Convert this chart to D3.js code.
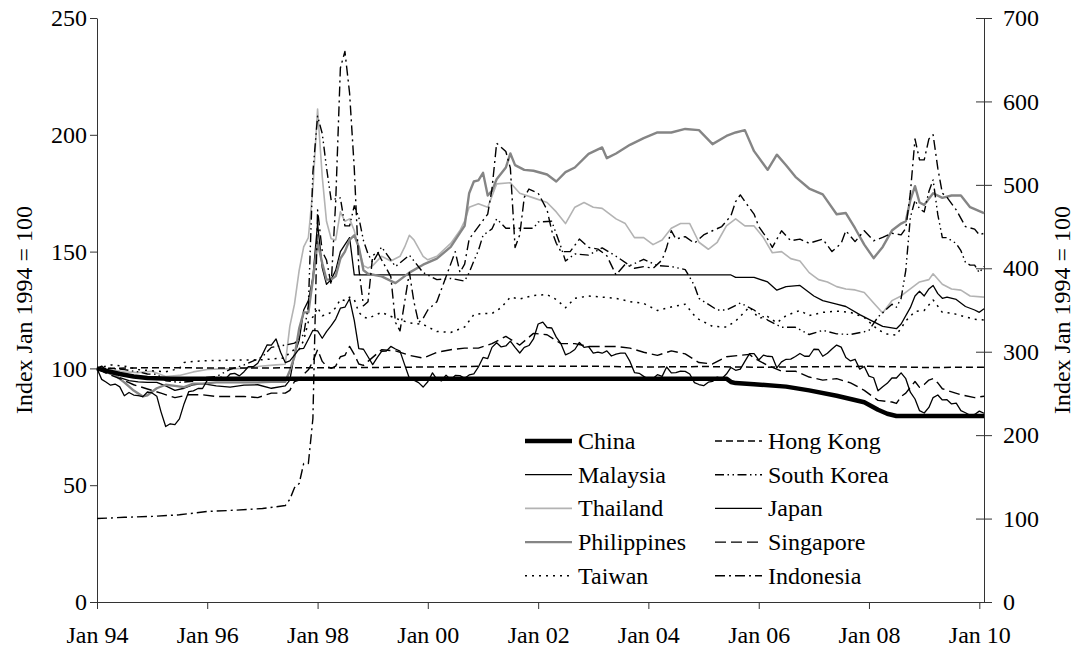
<!DOCTYPE html>
<html>
<head>
<meta charset="utf-8">
<script src="https://cdn.jsdelivr.net/npm/d3@7"></script>
<style>
  body { margin: 0; background: #fff; }
</style>
</head>
<body>
<div id="container"></div>
<script>
/* CONSTANTS AND GLOBALS */
const width = 1074, height = 650;
const margin = {top: 18, right: 90, bottom: 48, left: 97};
const fontSize = 24;
const serifFont = "Liberation Serif";

/* DATA */
const xTickYears = [1994, 1996, 1998, 2000, 2002, 2004, 2006, 2008, 2010];
const leftTicks = [0, 50, 100, 150, 200, 250];
const rightTicks = [0, 100, 200, 300, 400, 500, 600, 700];
const axisTitle = "Index Jan 1994 = 100";

// [month, index] pairs
const china = [["1994-01",100],["1994-03",99],["1994-06",97.6],["1994-09",96.5],["1994-12",95.9],["1995-05",95.6],
  ["2005-06",95.6],["2005-07",94.2],["2005-08",93.7],["2005-12",93.2],["2006-07",92.2],["2006-12",90.6],
  ["2007-06",88.3],["2007-12",85.5],["2008-03",82.3],["2008-05",80.6],["2008-07",79.6],["2010-02",79.6]];

const malaysia = [["1994-01",100],["1994-02",101],["1994-04",97.5],["1994-06",96],["1994-08",94.8],["1994-10",94.2],["1994-12",94],
  ["1995-02",94],["1995-04",92.5],["1995-06",90.6],["1995-08",91.5],["1995-10",93],["1995-12",93.5],["1996-03",92.5],["1996-06",92],
  ["1996-09",92.8],["1996-12",93],["1997-03",91.5],["1997-06",92.5],["1997-07",95],["1997-08",106],["1997-09",112],["1997-10",125],
  ["1997-11",129],["1997-12",139],["1998-01",162],["1998-02",143],["1998-03",136],["1998-04",138],["1998-05",142],["1998-06",150],
  ["1998-07",153],["1998-08",156],["1998-09",140],["2005-07",140],["2005-08",139],["2005-12",139],["2006-03",137],["2006-05",133.5],
  ["2006-07",135],["2006-10",135.5],["2007-01",131],["2007-03",129],["2007-06",127.5],["2007-08",126.5],["2007-11",123],["2008-01",121],
  ["2008-04",118],["2008-07",117],["2008-08",119],["2008-10",126],["2008-11",131],["2008-12",133],["2009-01",131],["2009-02",134],
  ["2009-03",135.5],["2009-04",132],["2009-05",130],["2009-06",130.5],["2009-08",129.5],["2009-10",126.5],["2009-12",125],["2010-01",124],["2010-02",125.5]];

const thailand = [["1994-01",100],["1994-04",99.5],["1994-07",98.5],["1994-10",98.2],["1995-01",98.8],["1995-04",96.5],["1995-07",97],
  ["1995-10",98.5],["1996-01",99.5],["1996-04",99.8],["1996-07",99.8],["1996-10",100.3],["1997-01",101],["1997-04",101.5],["1997-06",101.8],
  ["1997-07",118],["1997-08",127.5],["1997-09",142],["1997-10",152],["1997-11",156],["1997-12",177],["1998-01",211],["1998-02",182],
  ["1998-03",163],["1998-04",155.5],["1998-05",155],["1998-06",167],["1998-07",163],["1998-08",164],["1998-09",159],["1998-10",151],
  ["1998-11",144],["1998-12",143],["1999-01",144],["1999-03",148],["1999-05",146],["1999-07",148],["1999-08",152],["1999-09",157],
  ["1999-10",155],["1999-12",148],["2000-01",146.5],["2000-03",148],["2000-06",153.5],["2000-08",159],["2000-09",163],["2000-10",169],
  ["2000-12",170.5],["2001-02",169],["2001-04",179],["2001-07",179.5],["2001-09",175],["2001-12",173],["2002-03",171],["2002-05",167],
  ["2002-07",162],["2002-09",169],["2002-11",171],["2003-01",169],["2003-03",168.5],["2003-06",164],["2003-08",162],["2003-10",156],
  ["2003-12",156],["2004-02",153],["2004-04",155],["2004-06",160],["2004-08",162],["2004-10",162],["2004-12",154],["2005-02",151],
  ["2005-04",154],["2005-06",161],["2005-08",164],["2005-10",161],["2005-12",161],["2006-02",156],["2006-04",149.5],["2006-06",150],
  ["2006-08",147],["2006-10",146],["2006-12",141],["2007-02",138],["2007-04",137],["2007-06",135],["2007-08",134],["2007-10",133.6],
  ["2007-12",132.5],["2008-02",128],["2008-04",123.7],["2008-06",129],["2008-08",131],["2008-10",134],["2008-12",137],["2009-02",138],
  ["2009-03",140.5],["2009-05",136],["2009-07",134],["2009-09",133.5],["2009-11",131],["2010-02",130.5]];

const philippines = [["1994-01",100],["1994-03",98.5],["1994-05",97],["1994-07",94],["1994-09",90.5],["1994-11",88],["1994-12",88.5],
  ["1995-02",91.5],["1995-04",93],["1995-06",92.5],["1995-08",92],["1995-10",93.5],["1995-12",93.5],["1996-03",94],["1996-06",94],
  ["1996-09",94],["1996-12",94],["1997-03",94.3],["1997-06",94.3],["1997-07",99],["1997-08",105],["1997-09",117],["1997-10",124],
  ["1997-11",124],["1997-12",138],["1998-01",154],["1998-02",145],["1998-03",138],["1998-04",138],["1998-05",139.5],["1998-06",147],
  ["1998-07",150],["1998-08",155],["1998-09",157],["1998-10",152],["1998-11",142],["1998-12",140.5],["1999-03",139.4],["1999-06",136.5],
  ["1999-09",141],["1999-12",144.4],["2000-03",147],["2000-06",152],["2000-08",158],["2000-09",161],["2000-10",175],["2000-11",180],
  ["2000-12",180.5],["2001-01",183.7],["2001-02",174],["2001-03",176],["2001-04",181],["2001-06",186],["2001-07",192],["2001-08",187],
  ["2001-10",185],["2001-12",184.6],["2002-03",183],["2002-05",180],["2002-07",184],["2002-09",186],["2002-12",191.8],["2003-03",194.6],
  ["2003-04",190],["2003-06",192],["2003-09",195.7],["2003-12",198.6],["2004-03",201],["2004-06",201],["2004-09",202.5],["2004-12",202],
  ["2005-03",196],["2005-06",199.5],["2005-08",201],["2005-10",202],["2005-12",193],["2006-02",187.5],["2006-03",185],["2006-05",191.5],
  ["2006-07",187],["2006-09",182],["2006-12",177],["2007-03",174.5],["2007-06",166],["2007-08",166.5],["2007-10",160],["2007-12",153],
  ["2008-02",147.2],["2008-04",152],["2008-06",159],["2008-08",162],["2008-09",163],["2008-10",172],["2008-11",178],["2008-12",171],
  ["2009-01",170],["2009-03",175],["2009-05",173],["2009-07",174],["2009-09",174],["2009-11",169],["2010-02",166.5]];

const taiwan = [["1994-01",100],["1994-04",101.5],["1994-07",101],["1994-10",99.5],["1995-01",99],["1995-04",98.5],["1995-07",100],
  ["1995-08",102.5],["1995-10",103],["1996-01",103.3],["1996-06",103.5],["1997-01",103.7],["1997-06",104.5],["1997-07",107],["1997-08",108],
  ["1997-09",108],["1997-10",112],["1997-11",120],["1997-12",122],["1998-01",126],["1998-02",122.5],["1998-03",123],["1998-04",124],
  ["1998-05",126],["1998-06",129.5],["1998-07",129],["1998-08",130.5],["1998-09",129.5],["1998-10",124],["1998-11",122],["1998-12",121.4],
  ["1999-03",124],["1999-06",121.4],["1999-09",119.5],["1999-12",118.8],["2000-03",115.8],["2000-06",115.4],["2000-09",117.7],["2000-11",123],
  ["2001-01",123.5],["2001-03",123.5],["2001-05",126],["2001-07",130.5],["2001-09",129.7],["2001-12",131.2],["2002-03",131.6],["2002-05",129.5],
  ["2002-07",126],["2002-09",130],["2002-12",131],["2003-03",130.5],["2003-06",130],["2003-09",128.6],["2003-12",127.8],["2004-03",124.8],
  ["2004-06",126.3],["2004-09",127.5],["2004-11",122.6],["2004-12",121],["2005-03",118],["2005-06",117.7],["2005-08",120.3],["2005-11",126.3],
  ["2006-01",121.5],["2006-03",122.2],["2006-05",119.5],["2006-07",122.6],["2006-10",124.8],["2006-12",122.6],["2007-03",124],["2007-06",124.5],
  ["2007-09",124],["2007-12",121.8],["2008-03",116.5],["2008-05",114.7],["2008-07",114.3],["2008-09",120.3],["2008-11",124.4],["2009-01",124.8],
  ["2009-03",129.3],["2009-05",124],["2009-07",123.7],["2009-09",122.6],["2009-12",121],["2010-02",120.7]];

const hongKong = [["1994-01",100],["1994-06",100.1],["1995-01",100.3],["1996-01",100.2],["1997-01",100.2],["1998-01",100.3],["1999-01",100.4],
  ["2000-01",100.6],["2001-01",100.9],["2003-01",100.9],["2004-01",100.6],["2005-01",100.8],["2006-01",100.5],["2007-01",100.7],
  ["2008-01",100.9],["2009-01",100.4],["2010-02",100.5]];

const southKorea = [["1994-01",100],["1994-04",100],["1994-07",99.5],["1994-10",98.5],["1994-12",97.6],["1995-02",97.5],["1995-04",94.7],
  ["1995-07",94],["1995-10",94.5],["1995-12",96],["1996-03",96.5],["1996-06",99.6],["1996-09",101.5],["1996-12",104],["1997-01",105],
  ["1997-03",109],["1997-06",110],["1997-08",110.8],["1997-09",112.6],["1997-10",114.5],["1997-11",127],["1997-12",184],["1998-01",208],
  ["1998-02",200.5],["1998-03",186],["1998-04",172],["1998-05",172.6],["1998-06",173],["1998-07",161],["1998-08",161],["1998-09",169.6],
  ["1998-10",164.6],["1998-11",154.7],["1998-12",149],["1999-01",145.4],["1999-03",152],["1999-06",143.6],["1999-09",148.5],["1999-12",141],
  ["2000-03",138],["2000-06",138.5],["2000-09",137.4],["2000-10",141],["2000-11",146],["2000-12",150.4],["2001-01",157],["2001-03",159.7],
  ["2001-04",164],["2001-06",160],["2001-09",160],["2001-12",160],["2002-01",162.7],["2002-04",163],["2002-06",152],["2002-07",146],
  ["2002-09",149],["2002-12",148.5],["2003-03",151.6],["2003-06",148],["2003-09",144],["2003-12",146.7],["2004-03",144],["2004-06",143.6],
  ["2004-09",142.3],["2004-11",135.5],["2004-12",130],["2005-01",128.7],["2005-04",125],["2005-06",125],["2005-09",128],["2005-12",125],
  ["2006-03",120.7],["2006-06",117.6],["2006-09",117.6],["2006-12",114.5],["2007-03",116.3],["2007-06",114.8],["2007-09",114.5],
  ["2007-12",115.7],["2008-01",116.3],["2008-03",122],["2008-06",127.5],["2008-07",126.2],["2008-08",130],["2008-09",142],["2008-10",164.6],
  ["2008-11",172],["2008-12",168.3],["2009-01",167],["2009-02",175.7],["2009-03",180.7],["2009-04",165.8],["2009-05",156],["2009-06",156],
  ["2009-07",154.7],["2009-08",153.5],["2009-09",150.4],["2009-10",145.4],["2009-11",144.2],["2009-12",144.2],["2010-01",141],["2010-02",143.6]];

// Japan: one value per month from Jan 1994
const japanStart = "1994-01";
const japan = [
  100, 95.3, 94.2, 92.8, 93.3, 92.1, 88.3, 89.7, 88.6, 88.3, 87.9, 89.9,
  89.5, 88.1, 81.4, 75.1, 76.3, 75.9, 78.4, 84.9, 90.1, 90.4, 91.4, 91.4,
  94.9, 94.9, 95.0, 96.3, 95.5, 97.6, 97.9, 96.8, 98.6, 100.8, 100.7, 102.2,
  106.0, 110.1, 110.0, 112.6, 106.9, 102.5, 103.2, 105.7, 108.4, 108.6, 112.5, 116.3,
  116.1, 112.9, 115.7, 118.3, 121.1, 125.8, 126.2, 129.8, 120.6, 108.5, 108.2, 105.0,
  101.6, 104.7, 107.3, 107.4, 109.4, 108.3, 107.4, 101.5, 95.8, 95.0, 93.9, 92.0,
  94.3, 98.1, 95.3, 94.7, 97.1, 95.2, 97.0, 96.9, 95.8, 97.2, 97.7, 100.6,
  104.7, 104.2, 109.0, 111.0, 109.2, 109.6, 111.7, 109.0, 106.6, 109.0, 109.8, 112.6,
  119.0, 119.8, 117.5, 117.3, 113.4, 110.6, 105.8, 106.7, 108.1, 111.1, 109.0, 109.3,
  106.5, 107.0, 106.5, 107.5, 105.3, 106.1, 106.5, 106.5, 103.0, 98.2, 97.9, 96.6,
  95.3, 95.7, 97.3, 96.6, 100.6, 98.1, 98.2, 98.8, 98.7, 97.6, 93.9, 93.1,
  92.6, 94.1, 94.4, 96.3, 95.6, 97.6, 100.4, 99.2, 99.7, 103.0, 106.3, 106.3,
  103.6, 105.7, 105.2, 105.0, 100.2, 102.8, 103.9, 104.0, 105.1, 106.4, 105.2, 105.2,
  108.2, 108.1, 105.2, 106.5, 108.3, 110.0, 109.1, 104.7, 103.2, 103.9, 99.7, 100.8,
  96.7, 96.0, 90.4, 92.1, 93.6, 95.9, 95.9, 98.1, 95.6, 89.8, 86.9, 81.9,
  80.9, 83.3, 87.5, 88.6, 86.5, 86.6, 84.8, 85.1, 81.9, 81.0, 79.9, 80.3,
  81.7, 80.8];

const singapore = [["1994-01",100],["1994-03",98],["1994-06",95.6],["1994-09",93],["1994-12",91.2],["1995-03",89.4],["1995-06",87.5],
  ["1995-09",88.7],["1995-12",88.7],["1996-03",88],["1996-06",88],["1996-09",88],["1996-12",87.5],["1997-03",89.4],["1997-06",89.4],
  ["1997-07",90.6],["1997-08",94.4],["1997-09",95],["1997-10",97.5],["1997-11",99.4],["1997-12",103],["1998-01",108],["1998-02",103],
  ["1998-03",101],["1998-04",100],["1998-05",101],["1998-06",105],["1998-07",105.6],["1998-08",109.4],["1998-09",106],["1998-10",101.9],
  ["1998-11",101.3],["1998-12",103],["1999-03",108],["1999-06",107.5],["1999-09",105.6],["1999-12",104.4],["2000-03",106.9],["2000-06",108],
  ["2000-09",108.7],["2000-12",108.7],["2001-03",110.6],["2001-06",113.7],["2001-09",110],["2001-12",115],["2002-03",114.4],["2002-06",110.6],
  ["2002-09",110.6],["2002-12",109.4],["2003-03",109.4],["2003-06",109.4],["2003-09",108.7],["2003-12",106.9],["2004-03",105.6],["2004-06",107.5],
  ["2004-09",106.2],["2004-12",102.5],["2005-03",101.9],["2005-06",105],["2005-09",105.6],["2005-11",106],["2005-12",104.4],["2006-03",101.3],
  ["2006-06",98.8],["2006-09",98.8],["2006-12",96.3],["2007-03",95],["2007-06",95.6],["2007-09",93.8],["2007-12",90.6],["2008-03",86.3],
  ["2008-06",85.6],["2008-07",85],["2008-08",88],["2008-09",89.4],["2008-10",91.9],["2008-11",94.4],["2008-12",91.9],["2009-01",93.1],
  ["2009-02",95],["2009-03",95.6],["2009-04",93.8],["2009-05",91.3],["2009-06",90.6],["2009-09",88.7],["2009-12",87.5],["2010-02",88.1]];

// Indonesia is read against the right-hand axis
const indonesia = [["1994-01",100],["1994-07",101.5],["1995-01",102.6],["1995-07",104.5],["1996-01",108.5],["1996-07",110],["1997-01",112],
  ["1997-06",115.6],["1997-07",123],["1997-08",137],["1997-09",142],["1997-10",166],["1997-11",166],["1997-12",220],["1998-01",470],
  ["1998-02",420],["1998-03",410],["1998-04",380],["1998-05",480],["1998-06",640],["1998-07",660],["1998-08",610],["1998-09",520],
  ["1998-10",400],["1998-11",355],["1998-12",360],["1999-01",415],["1999-02",420],["1999-03",410],["1999-04",400],["1999-05",390],
  ["1999-06",335],["1999-07",325],["1999-08",360],["1999-09",395],["1999-10",360],["1999-11",335],["1999-12",340],["2000-01",350],
  ["2000-03",360],["2000-05",390],["2000-07",420],["2000-08",395],["2000-09",405],["2000-10",435],["2000-12",450],["2001-02",465],
  ["2001-03",495],["2001-04",550],["2001-06",540],["2001-07",520],["2001-08",425],["2001-09",440],["2001-10",485],["2001-11",495],
  ["2002-01",490],["2002-03",470],["2002-04",445],["2002-05",430],["2002-06",420],["2002-08",420],["2002-10",435],["2002-12",425],
  ["2003-02",423],["2003-04",415],["2003-06",392],["2003-08",405],["2003-10",400],["2003-12",402],["2004-02",400],["2004-04",410],
  ["2004-05",425],["2004-06",445],["2004-07",435],["2004-09",438],["2004-11",430],["2005-01",440],["2005-03",445],["2005-05",450],
  ["2005-07",463],["2005-08",480],["2005-09",488],["2005-10",480],["2005-12",465],["2006-01",450],["2006-03",435],["2006-04",425],
  ["2006-06",445],["2006-08",433],["2006-10",435],["2006-12",430],["2007-03",435],["2007-05",420],["2007-07",430],["2007-08",445],
  ["2007-10",432],["2007-12",445],["2008-02",433],["2008-04",437],["2008-06",442],["2008-08",440],["2008-09",448],["2008-10",490],
  ["2008-11",555],["2008-12",530],["2009-01",530],["2009-02",555],["2009-03",560],["2009-04",520],["2009-05",490],["2009-06",485],
  ["2009-08",470],["2009-10",450],["2009-12",447],["2010-01",440],["2010-02",442]];

/* SERIES STYLES */
const parseMonth = d3.timeParse("%Y-%m");
const toPoints = arr => arr.map(d => ({date: parseMonth(d[0]), value: d[1]}));
const japanPoints = japan.map((v, i) => ({date: d3.timeMonth.offset(parseMonth(japanStart), i), value: v}));

const series = [
  {name: "China",       points: toPoints(china),       axis: "left",  color: "#000",    width: 4.5, dash: null},
  {name: "Malaysia",    points: toPoints(malaysia),    axis: "left",  color: "#000",    width: 1.3, dash: null},
  {name: "Thailand",    points: toPoints(thailand),    axis: "left",  color: "#b3b3b3", width: 1.6, dash: null},
  {name: "Philippines", points: toPoints(philippines), axis: "left",  color: "#858585", width: 2.4, dash: null},
  {name: "Taiwan",      points: toPoints(taiwan),      axis: "left",  color: "#000",    width: 1.5, dash: "2,5"},
  {name: "Hong Kong",   points: toPoints(hongKong),    axis: "left",  color: "#000",    width: 1.5, dash: "7,4"},
  {name: "South Korea", points: toPoints(southKorea),  axis: "left",  color: "#000",    width: 1.4, dash: "9,3.5,1.5,3.5,1.5,3.5"},
  {name: "Japan",       points: japanPoints,           axis: "left",  color: "#000",    width: 1.3, dash: null},
  {name: "Singapore",   points: toPoints(singapore),   axis: "left",  color: "#000",    width: 1.4, dash: "11,5"},
  {name: "Indonesia",   points: toPoints(indonesia),   axis: "right", color: "#000",    width: 1.4, dash: "10,4,2,4"}
];

/* SVG */
const svg = d3.select("#container")
  .append("svg")
  .attr("width", width)
  .attr("height", height);

/* SCALES */
const xScale = d3.scaleTime()
  .domain([parseMonth("1994-01"), parseMonth("2010-02")])
  .range([margin.left, width - margin.right]);

const yLeft = d3.scaleLinear()
  .domain([0, 250])
  .range([height - margin.bottom, margin.top]);

const yRight = d3.scaleLinear()
  .domain([0, 700])
  .range([height - margin.bottom, margin.top]);

/* AXES */
const axisColor = "#333";

svg.append("g")
  .attr("transform", `translate(0,${height - margin.bottom})`)
  .call(d3.axisBottom(xScale)
    .tickValues(xTickYears.map(y => new Date(y, 0, 1)))
    .tickFormat(d3.timeFormat("Jan %y"))
    .tickSize(7)
    .tickSizeOuter(0)
    .tickPadding(17));

svg.append("g")
  .attr("transform", `translate(${margin.left},0)`)
  .call(d3.axisLeft(yLeft).tickValues(leftTicks).tickSize(7).tickSizeOuter(0).tickPadding(3));

const rightAxis = svg.append("g")
  .attr("transform", `translate(${width - margin.right},0)`)
  .call(d3.axisRight(yRight).tickValues(rightTicks).tickSize(8).tickSizeOuter(0).tickPadding(11));
rightAxis.selectAll(".tick line").attr("x1", -8);

svg.selectAll(".domain, .tick line").attr("stroke", axisColor);

// axis titles
const midY = (margin.top + height - margin.bottom) / 2;
svg.append("text")
  .attr("transform", `translate(24,${midY}) rotate(-90)`)
  .attr("text-anchor", "middle")
  .attr("dominant-baseline", "central")
  .text(axisTitle);

svg.append("text")
  .attr("transform", `translate(1062,${midY}) rotate(-90)`)
  .attr("text-anchor", "middle")
  .attr("dominant-baseline", "central")
  .text(axisTitle);

/* LINES */
const lineFor = s => d3.line()
  .x(d => xScale(d.date))
  .y(d => (s.axis === "right" ? yRight : yLeft)(d.value));

// China drawn last so the heavy line sits on top
const drawOrder = series.slice(1).concat(series.slice(0, 1));

svg.append("g")
  .selectAll("path")
  .data(drawOrder)
  .join("path")
  .attr("d", s => lineFor(s)(s.points))
  .attr("fill", "none")
  .attr("stroke", s => s.color)
  .attr("stroke-width", s => s.width)
  .attr("stroke-dasharray", s => s.dash)
  .attr("stroke-linejoin", "round");

/* LEGEND */
const legendCols = [525, 715];
const legendRowY = 441, legendStep = 33.7, legendLineLen = 47;

const legend = svg.append("g")
  .selectAll("g")
  .data(series)
  .join("g")
  .attr("transform", (s, i) => `translate(${legendCols[Math.floor(i / 5)]},${legendRowY + (i % 5) * legendStep})`);

legend.append("line")
  .attr("x1", 0)
  .attr("x2", legendLineLen)
  .attr("stroke", s => s.color)
  .attr("stroke-width", s => s.width)
  .attr("stroke-dasharray", s => s.dash);

legend.append("text")
  .attr("x", legendLineLen + 6)
  .attr("y", 8)
  .text(s => s.name);

// one family name only: the renderer does not take a fallback list
svg.selectAll("text")
  .attr("font-family", serifFont)
  .attr("font-size", fontSize)
  .attr("fill", "#000");
</script>
</body>
</html>
